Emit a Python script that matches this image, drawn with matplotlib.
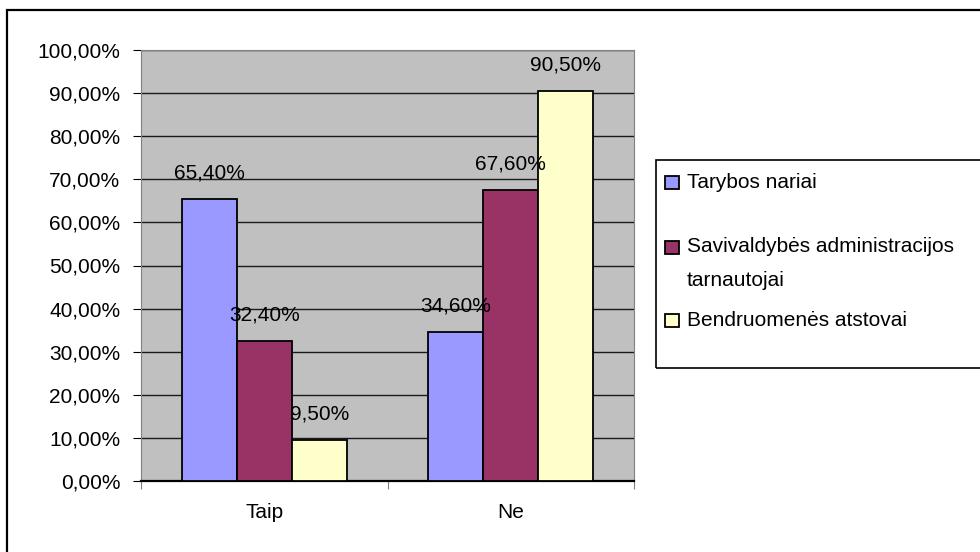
import numpy as np
import matplotlib.pyplot as plt
from matplotlib.patches import Rectangle

plt.rcParams['font.family'] = ['Liberation Sans', 'DejaVu Sans']

categories = ["Taip", "Ne"]
series = ["Tarybos nariai", "Savivaldybės administracijos\ntarnautojai", "Bendruomenės atstovai"]
values = [
    [65.4, 34.6],   # Tarybos nariai
    [32.4, 67.6],   # Savivaldybes administracijos tarnautojai
    [9.5, 90.5],    # Bendruomenes atstovai
]
colors = ["#9999FF", "#993366", "#FFFFCC"]

FS = 15
W, H = 980, 552


def fx(px):
    return px / W


def fy(py):
    return 1 - py / H


fig = plt.figure(figsize=(9.8, 5.52), dpi=100)
# outer chart border (right and bottom run off the picture)
fig.patches.append(Rectangle((fx(7), fy(600)), 1.2, (600 - 10) / H, transform=fig.transFigure,
                             fill=False, edgecolor="black", linewidth=1.6))

ax = fig.add_axes([fx(141), fy(481), (634 - 141) / W, (481 - 50) / H])
ax.set_facecolor("#C0C0C0")

x = np.arange(len(categories))
w = 0.223
for i, (vals, c) in enumerate(zip(values, colors)):
    pos = x + (i - 1) * w
    ax.bar(pos, vals, width=w, color=c, edgecolor="black", linewidth=1.3, zorder=3)
    for p, v in zip(pos, vals):
        ax.text(p, v + 6.0, f"{v:.2f}%".replace(".", ","), ha="center", va="center",
                fontsize=FS, zorder=4)

ax.set_xlim(-0.5, 1.5)
ax.set_ylim(0, 100)
ticks = np.arange(0, 101, 10)
ax.set_yticks(ticks)
ax.set_yticklabels([f"{t:.2f}%".replace(".", ",") for t in ticks], fontsize=FS)
ax.yaxis.grid(True, color="#1a1a1a", linewidth=1, zorder=1)
ax.set_axisbelow(True)

ax.set_xticks([-0.5, 0.5, 1.5])
ax.set_xticklabels([])
ax.set_xticks(x, minor=True)
ax.set_xticklabels(categories, minor=True, fontsize=FS)
ax.tick_params(axis="x", which="minor", length=0, pad=16)
ax.tick_params(axis="x", which="major", length=6, direction="out", color="gray")
ax.tick_params(axis="y", length=6, direction="out", pad=9)

for s in ["top", "right", "left"]:
    ax.spines[s].set_color("gray")
ax.spines["bottom"].set_color("black")
ax.spines["bottom"].set_linewidth(1.6)

# legend box, drawn by hand to match the uneven spacing of the original
fig.patches.append(Rectangle((fx(656), fy(368)), 1.0, (368 - 160) / H, transform=fig.transFigure,
                             fill=False, edgecolor="black", linewidth=1.2))
leg_rows = [(182, [series[0]]), (247, series[1].split("\n")), (320, [series[2]])]
for (yc, lines), c in zip(leg_rows, colors):
    fig.patches.append(Rectangle((fx(665), fy(yc + 7)), 14 / W, 13 / H,
                                 transform=fig.transFigure, facecolor=c,
                                 edgecolor="black", linewidth=1.3))
    for k, line in enumerate(lines):
        fig.text(fx(687), fy(yc + 33 * k), line, ha="left", va="center", fontsize=FS)

fig.savefig("out.png", dpi=100)
